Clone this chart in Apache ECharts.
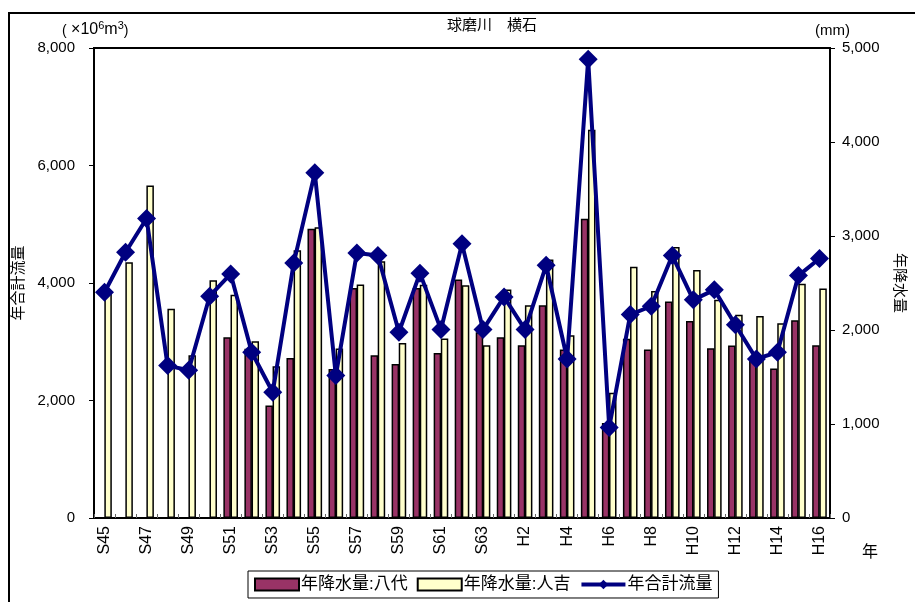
<!DOCTYPE html>
<html>
<head>
<meta charset="utf-8">
<title>球磨川 横石</title>
<script src="https://cdn.jsdelivr.net/npm/echarts@6/dist/echarts.min.js"></script>
<style>
  html, body { margin: 0; padding: 0; background: #fff; }
  #chart { width: 915px; height: 602px; }
</style>
</head>
<body>
<div id="chart"></div>
<script>
// Years: Showa 45 – Heisei 16
const years = [
  'S45','S46','S47','S48','S49','S50','S51','S52','S53','S54',
  'S55','S56','S57','S58','S59','S60','S61','S62','S63',
  'H1','H2','H3','H4','H5','H6','H7','H8','H9','H10',
  'H11','H12','H13','H14','H15','H16'
];

// Annual rainfall at Yatsushiro (mm); no record before S51
const rainYatsushiro = [
  null, null, null, null, null, null, 1923, 1800, 1196, 1703,
  3076, 1586, 2448, 1731, 1639, 2447, 1756, 2537, 1976,
  1923, 1838, 2264, 1792, 3183, 1010, 1906, 1793, 2304, 2095,
  1807, 1835, 1700, 1590, 2105, 1839
];

// Annual rainfall at Hitoyoshi (mm)
const rainHitoyoshi = [
  2390, 2721, 3537, 2225, 1731, 2530, 2374, 1880, 1614, 2849,
  3094, 1802, 2484, 2732, 1863, 2482, 1909, 2477, 1838,
  2430, 2264, 2750, 1944, 4131, 1333, 2673, 2414, 2883, 2638,
  2322, 2163, 2148, 2073, 2492, 2442
];

// Annual total discharge at Yokoishi (×10^6 m^3)
const totalFlow = [
  3843, 4524, 5097, 2594, 2514, 3775, 4155, 2821, 2140, 4342,
  5875, 2424, 4512, 4467, 3162, 4168, 3207, 4666, 3207,
  3763, 3207, 4302, 2707, 7808, 1541, 3462, 3604, 4467, 3713,
  3883, 3288, 2707, 2821, 4126, 4416
];

const latin = '"Liberation Sans", Arial, sans-serif';
const cjk = '"Liberation Sans", "Noto Sans CJK JP", sans-serif';
const fmt = v => v.toLocaleString('en-US');

const chart = echarts.init(document.getElementById('chart'), null, { renderer: 'canvas' });

chart.setOption({
  animation: false,
  backgroundColor: '#fff',
  textStyle: { fontFamily: cjk, color: '#000' },
  grid: {
    left: 94, right: 70, top: 48, bottom: 84,
    show: true, borderColor: '#000', borderWidth: 2,
    backgroundColor: 'transparent'
  },
  legend: {
    left: 248, top: 571,
    padding: [5, 6, 5, 6],
    borderColor: '#000', borderWidth: 1,
    itemWidth: 44, itemHeight: 12, itemGap: 9,
    textStyle: { fontFamily: cjk, fontSize: 17, color: '#000', padding: [0, 0, 0, -3] },
    data: [
      { name: '年降水量:八代', icon: 'rect' },
      { name: '年降水量:人吉', icon: 'rect' },
      { name: '年合計流量', lineStyle: { width: 4 } }
    ]
  },
  xAxis: {
    type: 'category',
    data: years,
    boundaryGap: true,
    axisLine: { lineStyle: { color: '#000', width: 2 } },
    axisTick: { show: true, inside: true, length: 4, interval: 0, lineStyle: { color: '#666', width: 1 } },
    axisLabel: {
      interval: 1, rotate: 90, margin: 8,
      fontFamily: latin, fontSize: 16, color: '#000'
    },
    splitLine: { show: false }
  },
  yAxis: [
    {
      type: 'value', min: 0, max: 8000, interval: 2000,
      name: '年合計流量', nameLocation: 'middle', nameGap: 64, nameRotate: 90,
      nameTextStyle: { fontFamily: cjk, fontSize: 15, color: '#000' },
      axisLine: { show: true, lineStyle: { color: '#000', width: 2 } },
      axisTick: { show: true, length: 5, lineStyle: { color: '#000' } },
      axisLabel: { formatter: fmt, margin: 19, fontFamily: latin, fontSize: 15, color: '#000' },
      splitLine: { show: false }
    },
    {
      type: 'value', min: 0, max: 5000, interval: 1000,
      name: '年降水量', nameLocation: 'middle', nameGap: 62, nameRotate: -90,
      nameTextStyle: { fontFamily: cjk, fontSize: 15, color: '#000' },
      axisLine: { show: true, lineStyle: { color: '#000', width: 2 } },
      axisTick: { show: true, length: 5, lineStyle: { color: '#000' } },
      axisLabel: { formatter: fmt, margin: 12, fontFamily: latin, fontSize: 15, color: '#000' },
      splitLine: { show: false }
    }
  ],
  series: [
    {
      name: '年降水量:八代', type: 'bar', yAxisIndex: 1,
      data: rainYatsushiro,
      barWidth: 7.5, barGap: '-5%',
      itemStyle: { color: '#993366', borderColor: '#000', borderWidth: 1.5 }
    },
    {
      name: '年降水量:人吉', type: 'bar', yAxisIndex: 1,
      data: rainHitoyoshi,
      barWidth: 7.5, barGap: '-5%',
      itemStyle: { color: '#FFFFCC', borderColor: '#000', borderWidth: 1.5 }
    },
    {
      name: '年合計流量', type: 'line', yAxisIndex: 0,
      data: totalFlow,
      z: 5,
      symbol: 'diamond', symbolSize: 19,
      showSymbol: true, showAllSymbol: true,
      lineStyle: { color: '#000080', width: 4 },
      itemStyle: { color: '#000080' }
    }
  ],
  graphic: [
    {
      type: 'rect', silent: true, z: 100,
      shape: { x: 9, y: 13, width: 920, height: 600 },
      style: { fill: 'none', stroke: '#000', lineWidth: 2 }
    },
    {
      type: 'text', left: 447, top: 18, z: 100,
      style: { text: '球磨川\u3000横石', font: '15px ' + cjk, fill: '#000' }
    },
    {
      type: 'text', left: 62, top: 20, z: 100,
      style: {
        text: '{p|(}{t| ×10}{s|6}{t|m}{s|3}{p|)}',
        rich: {
          p: { font: '14px ' + latin, fill: '#000', verticalAlign: 'bottom' },
          t: { font: '16px ' + latin, fill: '#000', verticalAlign: 'bottom' },
          s: { font: '11px ' + latin, fill: '#000', verticalAlign: 'bottom', padding: [0, 0, 7, 0] }
        }
      }
    },
    {
      type: 'text', left: 815, top: 23, z: 100,
      style: { text: '(mm)', font: '15px ' + latin, fill: '#000' }
    },
    {
      type: 'text', left: 862, top: 545, z: 100,
      style: { text: '年', font: '16px ' + cjk, fill: '#000' }
    }
  ]
});
</script>
</body>
</html>
